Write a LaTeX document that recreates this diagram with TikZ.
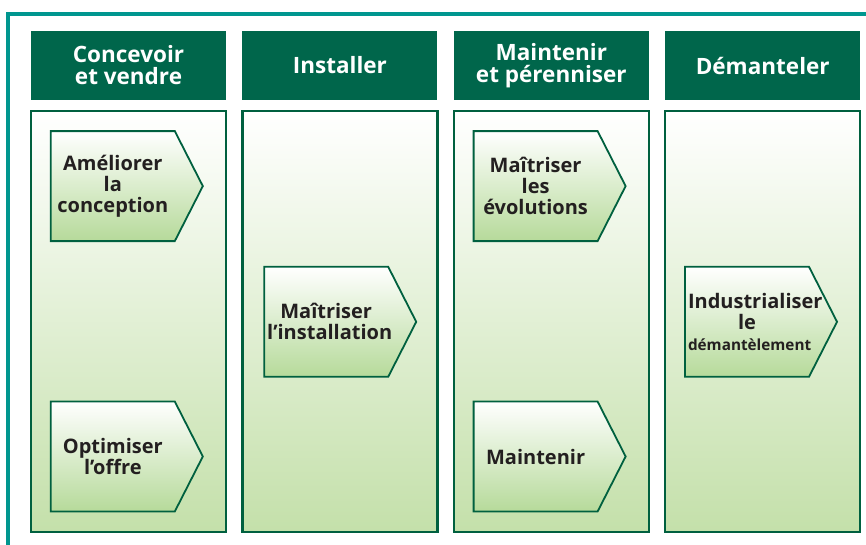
\documentclass[tikz,border=0pt]{standalone}
\usepackage{fontspec}
\setmainfont{Open Sans}
\usetikzlibrary{positioning, shapes.symbols}
\definecolor{FrameTeal}{HTML}{00968F}
\definecolor{PhaseGreen}{HTML}{00664B}
\definecolor{EdgeGreen}{HTML}{00603F}
\definecolor{PaleLime}{HTML}{C4E0AA}
\definecolor{SoftLime}{HTML}{B6DA9A}
\definecolor{InkGray}{HTML}{231F20}

\begin{document}
\begin{tikzpicture}[
  x=1pt, y=-1pt,
  node distance=10pt and 16pt,
  phase/.style={rectangle, fill=PhaseGreen, text=white, align=center,
    minimum width=195pt, minimum height=69pt, inner sep=0pt,
    font=\bfseries\fontsize{22.5}{22}\selectfont},
  lane/.style={rectangle, draw=EdgeGreen, line width=2.2pt,
    top color=white, bottom color=PaleLime,
    minimum width=195pt, minimum height=421pt, inner sep=0pt},
  chev/.style={shape=signal, signal to=east, signal pointer angle=126,
    draw=EdgeGreen, line width=1.8pt, top color=white, bottom color=SoftLime,
    text width=118pt, inner xsep=3pt, minimum height=110pt, align=center,
    text=InkGray, font=\bfseries\fontsize{20}{21}\selectfont},
  frame/.style={draw=FrameTeal, line width=3.5pt}
]
  \useasboundingbox (0,0) rectangle (866,544);
  \draw[frame] (8,546) |- (868,14);

  % phase headers
  \node[phase] (conc) at (128.5,65.5) {Concevoir\\et vendre};
  \node[phase, right=of conc] (inst) {Installer};
  \node[phase, right=of inst] (maint) {Maintenir\\et pérenniser};
  \node[phase, right=of maint] (dem) {Démanteler};

  % lanes
  \node[lane, below=of conc] (lconc) {};
  \node[lane, below=of inst] (linst) {};
  \node[lane, below=of maint] (lmaint) {};
  \node[lane, below=of dem] (ldem) {};

  % steps
  \node[chev, below right=20pt and 20pt of lconc.north west] (amel) {Améliorer\\la\\conception};
  \node[chev, above right=21pt and 20pt of lconc.south west] (offre) {Optimiser\\l’offre};
  \node[chev, right=22pt of linst.west] (minst) {Maîtriser\\l’installation};
  \node[chev, below right=20pt and 20pt of lmaint.north west] (evol) {Maîtriser\\les\\évolutions};
  \node[chev, above right=21pt and 20pt of lmaint.south west] (mtn) {Maintenir};
  \node[chev, right=20pt of ldem.west] (indus) {Industrialiser\\le\\{\fontsize{15.3}{18}\selectfont démantèlement}};
\end{tikzpicture}
\end{document}
